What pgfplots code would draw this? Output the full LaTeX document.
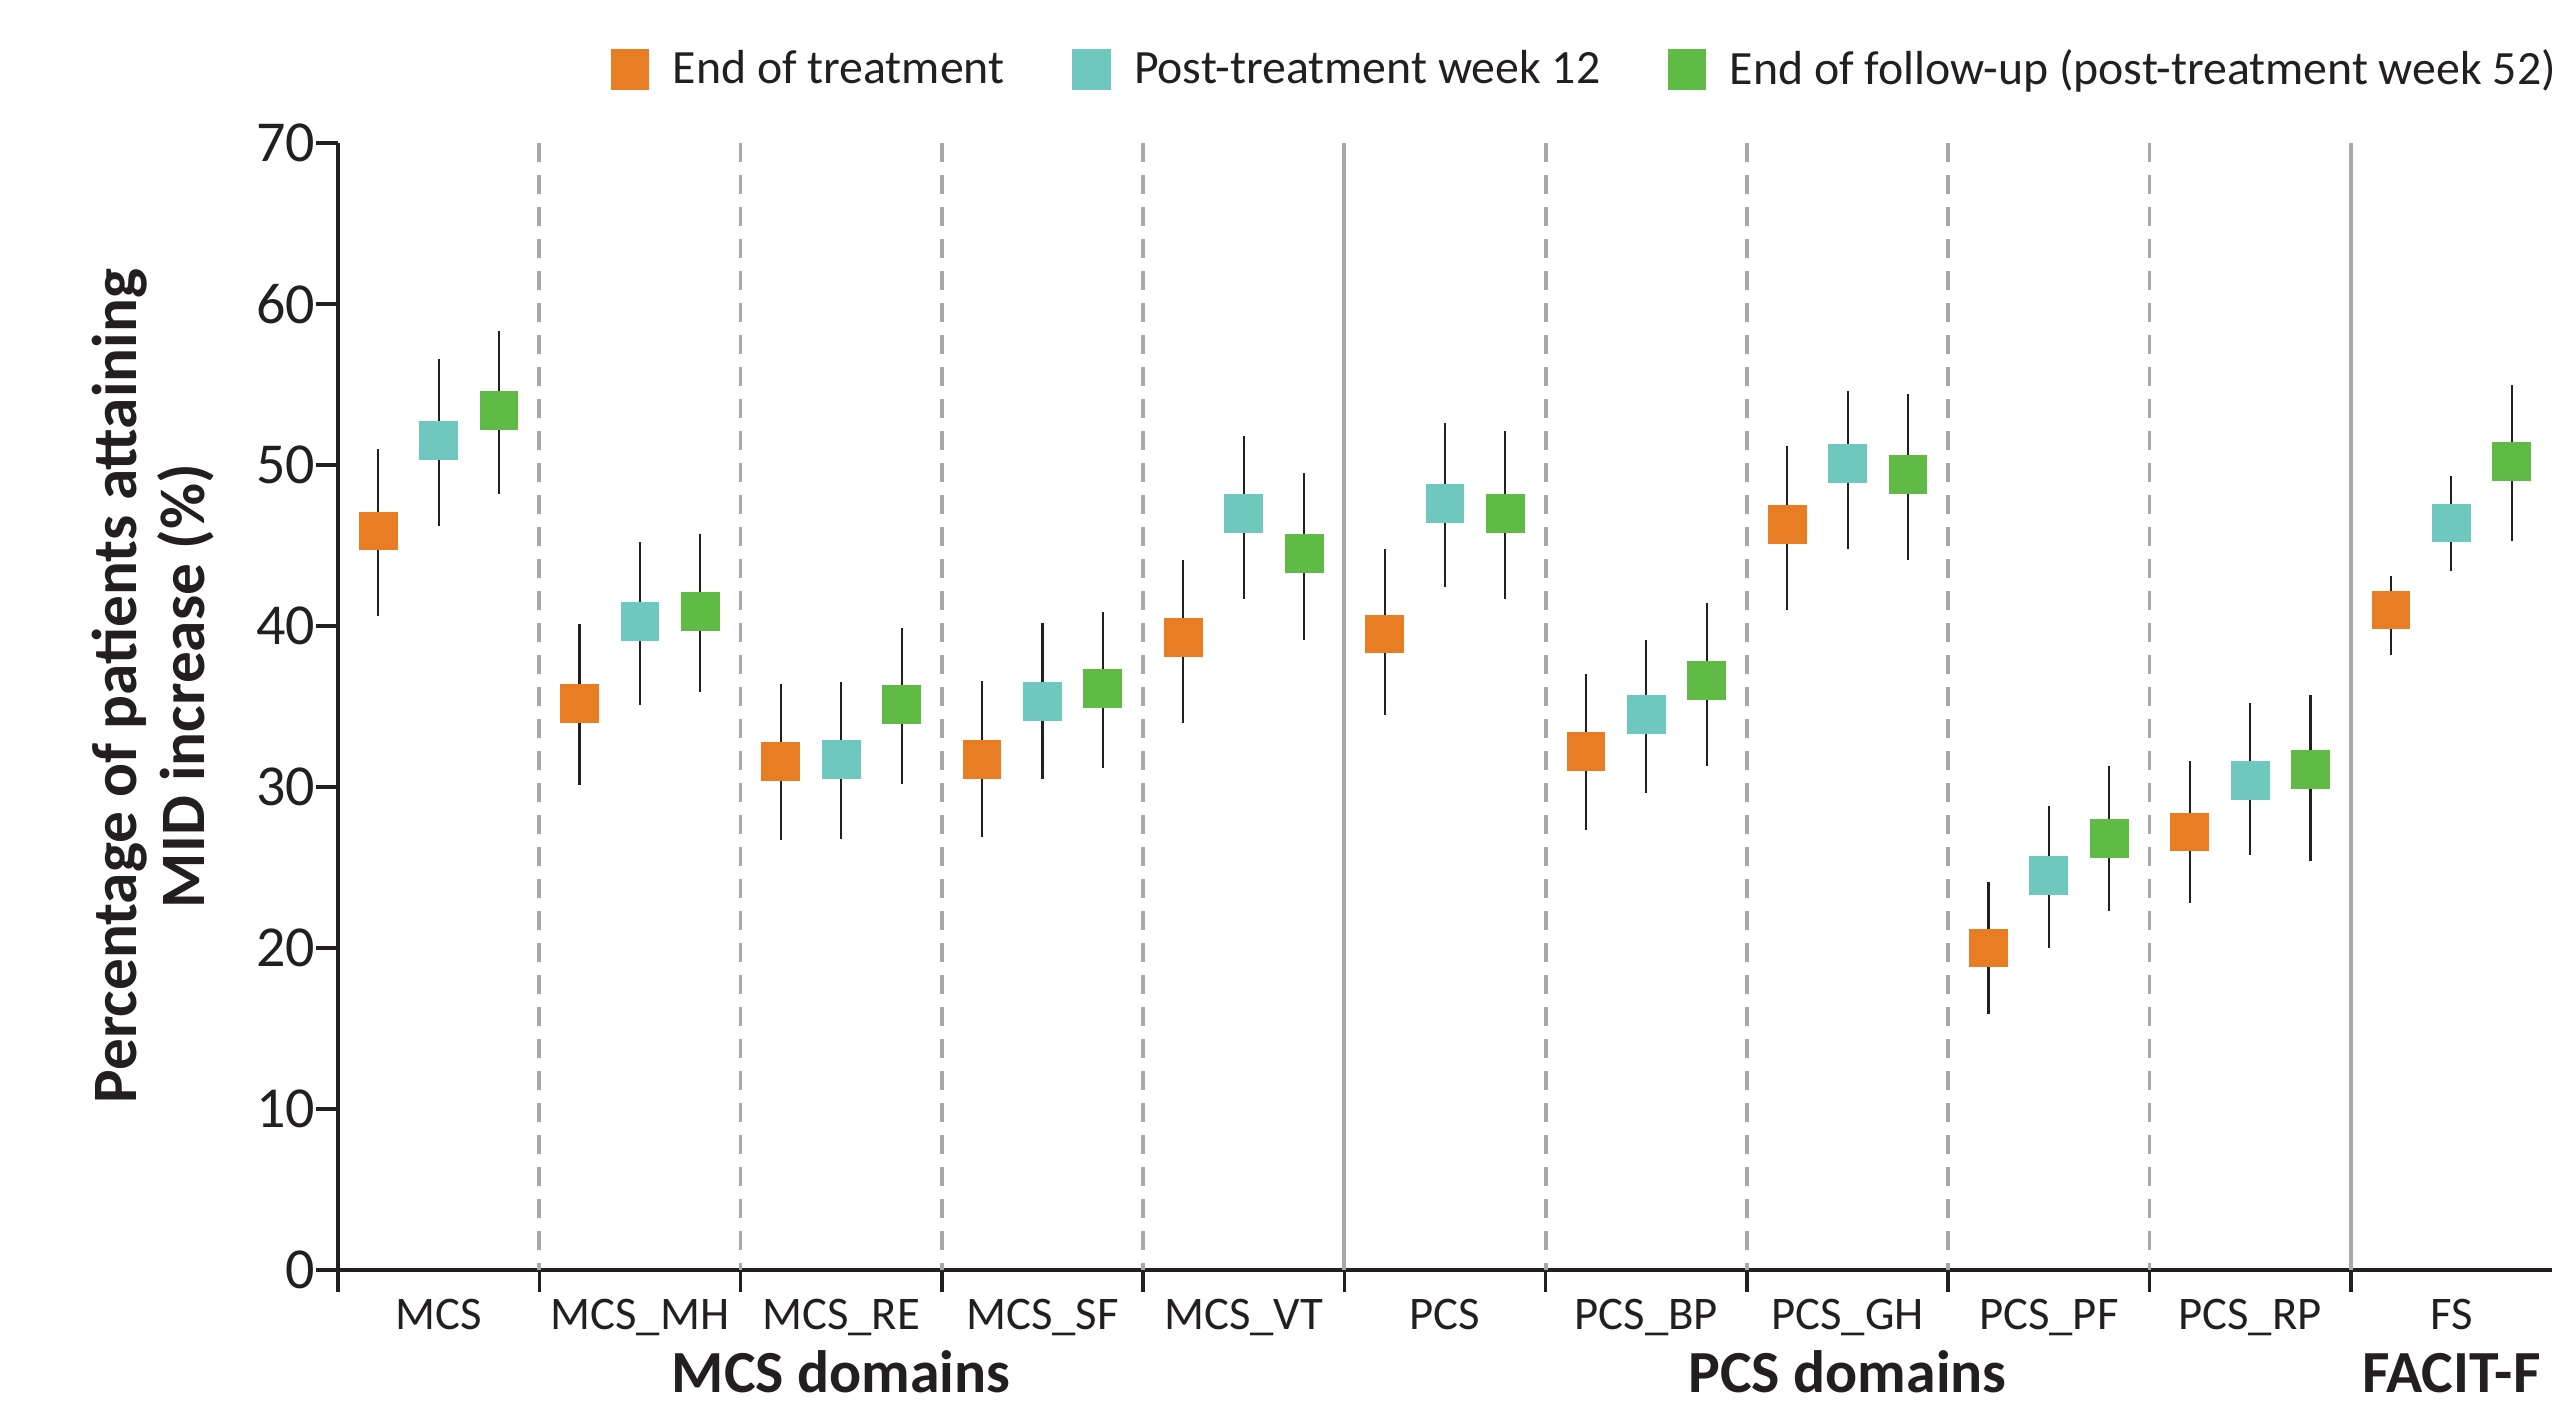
\documentclass[border=0pt]{standalone}
\usepackage{pgfplots}
\usepackage{pgfplotstable}
\pgfplotsset{compat=1.18}
\usepackage{fontspec}
\setmainfont{Carlito}

\definecolor{cEOT}{RGB}{232,125,35}
\definecolor{cWkA}{RGB}{110,200,190}
\definecolor{cWkB}{RGB}{96,187,70}
\definecolor{sepgray}{RGB}{167,167,172}
\definecolor{ink}{RGB}{35,31,32}

% columns: position, estimate, lower and upper limit of the 95% CI
% End of treatment
\pgfplotstableread{
x     y     lo    hi
-0.3  45.9  40.6  51.0
0.7   35.2  30.1  40.1
1.7   31.6  26.7  36.4
2.7   31.7  26.9  36.6
3.7   39.3  34.0  44.1
4.7   39.5  34.5  44.8
5.7   32.2  27.3  37.0
6.7   46.3  41.0  51.2
7.7   20.0  15.9  24.1
8.7   27.2  22.8  31.6
9.7   41.0  38.2  43.1
}\tabEOT
% Post-treatment week 12
\pgfplotstableread{
x     y     lo    hi
0.0   51.5  46.2  56.6
1.0   40.3  35.1  45.2
2.0   31.7  26.8  36.5
3.0   35.3  30.5  40.2
4.0   47.0  41.7  51.8
5.0   47.6  42.4  52.6
6.0   34.5  29.6  39.1
7.0   50.1  44.8  54.6
8.0   24.5  20.0  28.8
9.0   30.4  25.8  35.2
10.0  46.4  43.4  49.3
}\tabWkA
% End of follow-up (post-treatment week 52)
\pgfplotstableread{
x     y     lo    hi
0.3   53.4  48.2  58.3
1.3   40.9  35.9  45.7
2.3   35.1  30.2  39.9
3.3   36.1  31.2  40.9
4.3   44.5  39.1  49.5
5.3   47.0  41.7  52.1
6.3   36.6  31.3  41.4
7.3   49.4  44.1  54.4
8.3   26.8  22.3  31.3
9.3   31.1  25.4  35.7
10.3  50.2  45.3  55.0
}\tabWkB

\pgfplotsset{
  ci bars/.style={forget plot, draw=none, mark=none,
    error bars/.cd, y dir=both, y explicit, error mark=none,
    error bar style={ink, line width=0.6pt}},
  est marks/.style={forget plot, only marks, color=#1, mark=square*,
    mark size=0.189cm, mark options={draw=#1, fill=#1, line width=0pt}},
  swatch/.style={legend image code/.code={%
    \fill[#1] (0cm,-0.195cm) rectangle (0.37cm,0.195cm);}},
}
\tikzset{
  group label/.style={anchor=base, inner sep=0pt, yshift=-1.22cm, text=ink,
    font=\fontsize{17}{20}\selectfont\bfseries},
}

\begin{document}
\begin{tikzpicture}
\begin{axis}[
  at={(3.38cm,1.38cm)}, anchor=south west,
  scale only axis, width=22.14cm, height=11.27cm,
  xmin=-0.5, xmax=10.5, ymin=0, ymax=70,
  axis x line=bottom, axis y line=left,
  axis line style={-, ink, line width=1.1pt},
  clip mode=individual,
  tick align=outside,
  major tick length=0.22cm,
  tick style={ink, line width=1pt},
  xtick={-0.5,0.5,...,9.5},
  xticklabels={,,,,,,,,,,},
  extra x ticks={0,1,...,10},
  extra x tick labels={MCS,MCS\_MH,MCS\_RE,MCS\_SF,MCS\_VT,PCS,PCS\_BP,PCS\_GH,PCS\_PF,PCS\_RP,FS},
  extra x tick style={major tick length=0pt,
    tick label style={font=\fontsize{13.3}{16}\selectfont, text=ink,
      anchor=base, inner sep=0pt, yshift=-0.597cm}},
  ytick={0,10,...,70},
  yticklabel style={font=\fontsize{16.5}{19}\selectfont, text=ink, inner sep=0pt},
  /pgf/number format/assume math mode=true,
  legend columns=3,
  legend style={at={(0.1229,1.0652)}, anchor=west, draw=none, fill=none,
    inner sep=0pt, font=\fontsize{13.6}{16}\selectfont, text=ink,
    nodes={inner sep=0pt},
    /tikz/every odd column/.append style={column sep=0.235cm},
    /tikz/every even column/.append style={column sep=0.675cm}},
]
% separators between domains
\foreach \s in {0.5,1.5,2.5,3.5,5.5,6.5,7.5,8.5}{
  \edef\tmp{\noexpand\draw[sepgray, line width=1.1pt, dash pattern=on 0.19cm off 0.13cm]
    (axis cs:\s,70) -- (axis cs:\s,0);}\tmp}
\foreach \s in {4.5,9.5}{
  \edef\tmp{\noexpand\draw[sepgray, line width=1.1pt] (axis cs:\s,70) -- (axis cs:\s,0);}\tmp}

% confidence intervals
\addplot[ci bars] table[x=x, y=y,
  y error plus expr=\thisrow{hi}-\thisrow{y},
  y error minus expr=\thisrow{y}-\thisrow{lo}] {\tabEOT};
\addplot[ci bars] table[x=x, y=y,
  y error plus expr=\thisrow{hi}-\thisrow{y},
  y error minus expr=\thisrow{y}-\thisrow{lo}] {\tabWkA};
\addplot[ci bars] table[x=x, y=y,
  y error plus expr=\thisrow{hi}-\thisrow{y},
  y error minus expr=\thisrow{y}-\thisrow{lo}] {\tabWkB};

% point estimates
\addplot[est marks=cEOT] table[x=x, y=y] {\tabEOT};
\addplot[est marks=cWkA] table[x=x, y=y] {\tabWkA};
\addplot[est marks=cWkB] table[x=x, y=y] {\tabWkB};

\addlegendimage{swatch=cEOT}
\addlegendentry{End of treatment}
\addlegendimage{swatch=cWkA}
\addlegendentry{Post-treatment week 12}
\addlegendimage{swatch=cWkB}
\addlegendentry{End of follow-up (post-treatment week 52)}

% domain groups
\node[group label] at (axis cs:2,0) {MCS domains};
\node[group label] at (axis cs:7,0) {PCS domains};
\node[group label] at (axis cs:10,0) {FACIT-F};
\end{axis}

\node[rotate=90, align=center, text=ink, font=\fontsize{18}{19.5}\selectfont\bfseries]
  at (1.53cm,7.22cm) {Percentage of patients attaining\\MID increase (\%)};

\pgfresetboundingbox
\path[use as bounding box] (0,0) rectangle (25.52cm,14.08cm);
\end{tikzpicture}
\end{document}
